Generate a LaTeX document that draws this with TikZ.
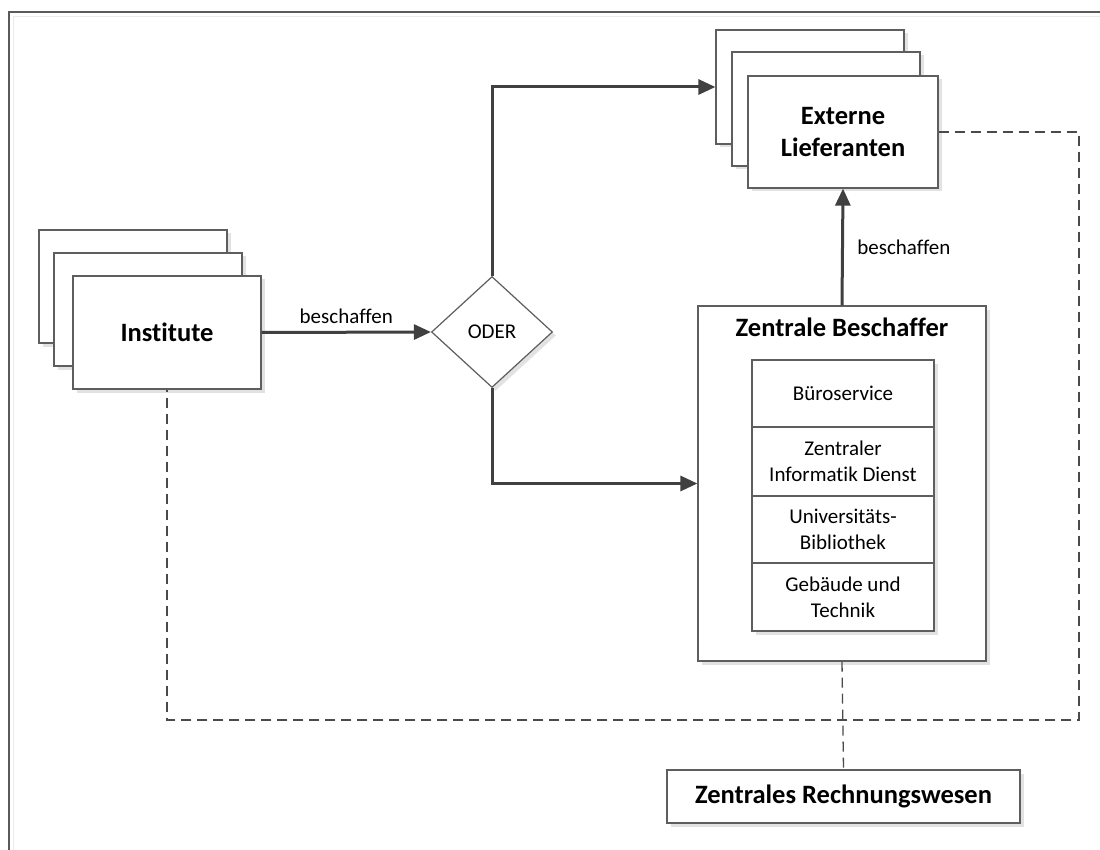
\documentclass[tikz,border=0pt]{standalone}
\usepackage{fontspec}
\setmainfont{Carlito}[Ligatures=NoCommon]
\usetikzlibrary{shapes.geometric,arrows.meta,shadows}
\definecolor{edgegray}{HTML}{5E5E5E}
\definecolor{flowgray}{HTML}{404040}
\definecolor{dashgray}{HTML}{4A4A4A}
\definecolor{shadegray}{HTML}{E2E2E2}
\definecolor{frameline}{HTML}{5A5A5A}
\definecolor{framelight}{HTML}{EBEBEB}
\tikzset{
  shaded/.style={drop shadow={shadow xshift=3.5pt,shadow yshift=-3.5pt,fill=shadegray,opacity=1}},
  box/.style={rectangle,draw=edgegray,line width=1.2pt,fill=white,inner sep=0pt,shaded,
              align=center},
  cell/.style={box,minimum width=182pt,font=\fontsize{21}{25.6}\selectfont},
  headtxt/.style={font=\fontsize{26.5}{32}\selectfont\bfseries,align=center},
  plaintxt/.style={font=\fontsize{21}{25.6}\selectfont},
  flow/.style={draw=flowgray,line width=3pt,-{Triangle[length=17pt,width=15pt]}},
  link/.style={draw=dashgray,line width=1.3pt,dash pattern=on 10pt off 6pt}
}
\begin{document}
\begin{tikzpicture}[x=1pt,y=-1pt]
\useasboundingbox (0,0) rectangle (1100,850);
\fill[white] (0,0) rectangle (1100,850);

% page frame
\draw[framelight,line width=1.5pt] (13.5,850) -- (13.5,16.5) -- (1100,16.5);
\draw[frameline,line width=1.6pt] (9,850) -- (9,12) -- (1100,12);

% Institute (stack)
\node[box,minimum width=188pt,minimum height=113pt] (inst1) at (133,286.5) {};
\node[box,minimum width=188pt,minimum height=113pt] (inst2) at (148,309.5) {};
\node[box,minimum width=188pt,minimum height=113pt,headtxt] (inst) at (167,332.5) {Institute};

% Externe Lieferanten (stack)
\node[box,minimum width=188pt,minimum height=114pt] (ext1) at (810,87) {};
\node[box,minimum width=188pt,minimum height=114pt] (ext2) at (826,109) {};
\node[box,minimum width=190pt,minimum height=112pt,headtxt] (ext) at (843,132) {Externe\\Lieferanten};

% decision
\node[diamond,draw=edgegray,line width=1.2pt,fill=white,inner sep=0pt,shaded,
      minimum width=121pt,minimum height=111pt,plaintxt] (oder) at (492,332) {ODER};

% Zentrale Beschaffer with its units
\node[box,minimum width=288pt,minimum height=355pt] (zb) at (842,483.5) {};
\node[headtxt] (zbtitle) at (842,327) {Zentrale Beschaffer};
\node[cell,minimum height=67pt] (bs) at (843,393.5) {Büroservice};
\node[cell,minimum height=69pt] (zid) at (843,461.5) {Zentraler\\Informatik Dienst};
\node[cell,minimum height=67pt] (ub) at (843,529.5) {Universitäts-\\Bibliothek};
\node[cell,minimum height=68pt] (gt) at (843,597) {Gebäude und\\Technik};

% Zentrales Rechnungswesen
\node[box,minimum width=353pt,minimum height=53pt,headtxt] (rw) at (843.5,796.5) {Zentrales Rechnungswesen};

% procurement flows
\draw[flow] (inst.east) -- node[plaintxt,above=4pt] (lb1) {beschaffen} (oder.west);
\draw[flow] (oder.north) |- (ext1.west);
\draw[flow] (oder.south) |- (zb.west);
\draw[flow] (zb.north) -- node[plaintxt,right=10pt] (lb2) {beschaffen} (ext.south);

% accounting links
\coordinate (cr) at (1079,720);
\draw[link] (ext.east) -| (cr) -| (inst.south);
\draw[link] (zb.south) -- (rw.north);
\end{tikzpicture}
\end{document}
